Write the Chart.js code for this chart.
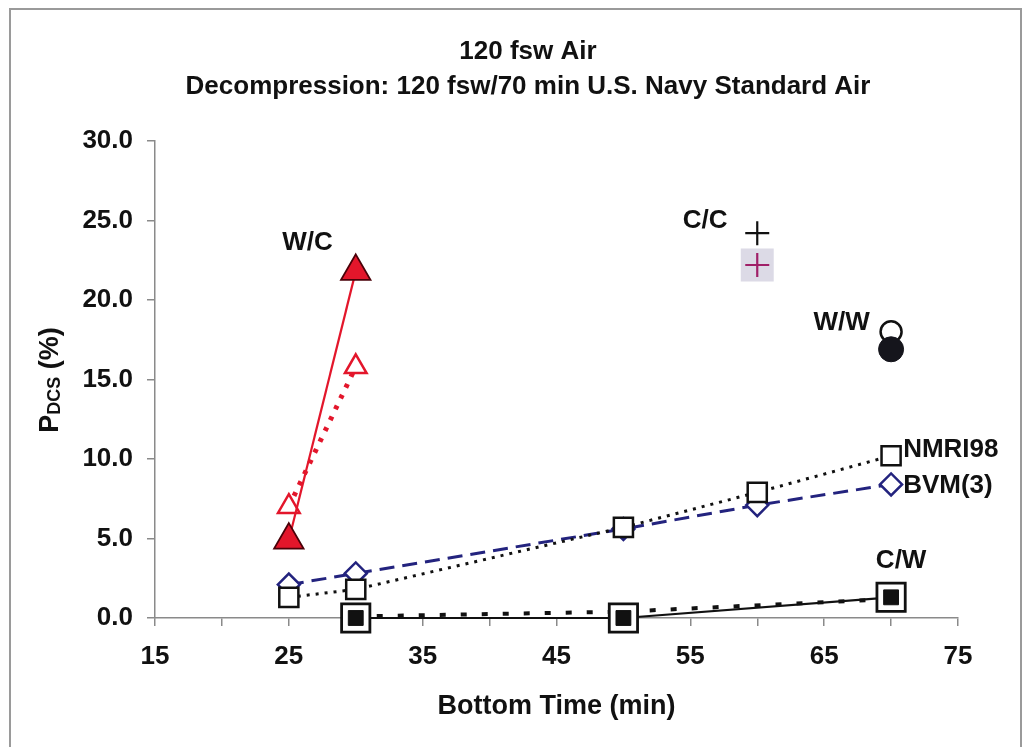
<!DOCTYPE html>
<html>
<head>
<meta charset="utf-8">
<script src="https://cdn.jsdelivr.net/npm/chart.js@4.4.1/dist/chart.umd.min.js"></script>
<style>
  html, body { margin: 0; padding: 0; background: #fff; }
  #wrap { position: relative; width: 1026px; height: 747px; }
  #frame { position: absolute; left: 9px; top: 8px; width: 1009px; height: 738px; border: 2px solid #9a9a9a; border-bottom: none; pointer-events: none; }
</style>
</head>
<body>
<div id="wrap">
  <canvas id="chart" width="1026" height="747"></canvas>
  <div id="frame"></div>
</div>
<script>
// bottom times (min) and P(DCS) values (%)
const wcTime = [25, 30];
const wcObserved = [4.9, 21.8];
const wcPredicted = [7.0, 15.8];

const ccTime = [60];
const ccObserved = [24.2];
const ccPredicted = [22.2];

const wwTime = [70];
const wwObserved = [16.9];
const wwPredicted = [18.0];

const cwTime = [30, 50, 70];
const cwObserved = [0.0, 0.0, 1.3];
const cwPredicted = [0.1, 0.4, 1.2];

const modelTime = [25, 30, 50, 60, 70];
const nmri98 = [1.3, 1.8, 5.7, 7.9, 10.2];
const bvm3 = [2.1, 2.8, 5.6, 7.1, 8.4];

const xTickLabels = [15, 25, 35, 45, 55, 65, 75];
const yTickValues = [0, 5, 10, 15, 20, 25, 30];

// text labels next to the series, placed in data units
const labelText = ['W/C', 'C/C', 'W/W', 'NMRI98', 'BVM(3)', 'C/W'];
const labelX = [26.4, 56.1, 66.3, 70.9, 70.9, 70.75];
const labelY = [23.6, 25.0, 18.55, 10.6, 8.3, 3.6];
const labelAlign = ['center', 'center', 'center', 'left', 'left', 'center'];

const titleLines = ['120 fsw Air', 'Decompression: 120 fsw/70 min U.S. Navy Standard Air'];

const FONT = '"Liberation Sans", Arial, Helvetica, sans-serif';
const RED = '#e3162b';
const NAVY = '#23237e';

function pts(xs, ys) {
  return xs.map((x, i) => ({ x: x, y: ys[i] }));
}

const textPlugin = {
  id: 'texts',
  afterDraw(chart) {
    const ctx = chart.ctx;
    const xs = chart.scales.x, ys = chart.scales.y;
    ctx.save();
    ctx.fillStyle = '#111';

    // title
    ctx.font = 'bold 26px ' + FONT;
    ctx.textAlign = 'center';
    ctx.textBaseline = 'alphabetic';
    ctx.fillText(titleLines[0], 528, 59);
    ctx.fillText(titleLines[1], 528, 94);

    // y axis title with subscript
    ctx.save();
    ctx.translate(58, 380);
    ctx.rotate(-Math.PI / 2);
    ctx.textAlign = 'left';
    const big = 'bold 27px ' + FONT, small = 'bold 18px ' + FONT;
    ctx.font = big; const wP = ctx.measureText('P').width;
    const wRest = ctx.measureText(' (%)').width;
    ctx.font = small; const wSub = ctx.measureText('DCS').width;
    let x0 = -(wP + wSub + wRest) / 2;
    ctx.font = big; ctx.fillText('P', x0, 0); x0 += wP;
    ctx.font = small; ctx.fillText('DCS', x0, 2); x0 += wSub;
    ctx.font = big; ctx.fillText(' (%)', x0, 0);
    ctx.restore();

    // series labels
    ctx.font = 'bold 26px ' + FONT;
    ctx.textBaseline = 'middle';
    labelText.forEach((t, i) => {
      ctx.textAlign = labelAlign[i];
      ctx.fillText(t, xs.getPixelForValue(labelX[i]), ys.getPixelForValue(labelY[i]));
    });
    ctx.restore();
  }
};

const axisGrid = { drawOnChartArea: false, drawTicks: true, tickLength: 8, color: '#8a8a8a', lineWidth: 1.5 };

new Chart(document.getElementById('chart'), {
  type: 'scatter',
  data: {
    datasets: [
      { // C/W observed, inner filled square
        data: pts(cwTime, cwObserved), showLine: false, clip: false,
        pointStyle: 'rect', pointRadius: 10.5, backgroundColor: '#111', borderColor: '#111', borderWidth: 1
      },
      { // C/W observed, outer square + solid line
        data: pts(cwTime, cwObserved), showLine: true, clip: false,
        borderColor: '#111', borderWidth: 2.2,
        pointStyle: 'rect', pointRadius: 20, pointBackgroundColor: '#fff', pointBorderColor: '#111', pointBorderWidth: 2.8
      },
      { // C/W predicted
        data: pts(cwTime, cwPredicted), showLine: true, clip: false, pointRadius: 0,
        borderColor: '#111', borderWidth: 4, borderDash: [6, 15]
      },
      { // W/W observed
        data: pts(wwTime, wwObserved), clip: false,
        pointStyle: 'circle', pointRadius: 12.5, backgroundColor: '#15151c', borderColor: '#15151c', borderWidth: 1
      },
      { // W/W predicted
        data: pts(wwTime, wwPredicted), clip: false,
        pointStyle: 'circle', pointRadius: 10.5, backgroundColor: '#fff', borderColor: '#111', borderWidth: 2.5
      },
      { // C/C observed
        data: pts(ccTime, ccObserved), clip: false,
        pointStyle: 'cross', pointRadius: 12, borderColor: '#111', borderWidth: 2.2
      },
      { // C/C predicted
        data: pts(ccTime, ccPredicted), clip: false,
        pointStyle: 'cross', pointRadius: 12, borderColor: '#a01f68', borderWidth: 2.2
      },
      { // C/C predicted, shaded backdrop
        data: pts(ccTime, ccPredicted), clip: false,
        pointStyle: 'rect', pointRadius: 23.3, backgroundColor: '#dcdae6', borderWidth: 0
      },
      { // W/C observed
        data: pts(wcTime, wcObserved), showLine: true, clip: false,
        borderColor: RED, borderWidth: 2.2,
        pointStyle: 'triangle', pointRadius: 17, pointBackgroundColor: RED, pointBorderColor: '#4a0008', pointBorderWidth: 1.8
      },
      { // W/C predicted
        data: pts(wcTime, wcPredicted), showLine: true, clip: false,
        borderColor: RED, borderWidth: 5, borderDash: [4, 8],
        pointStyle: 'triangle', pointRadius: 12.5, pointBackgroundColor: '#fff', pointBorderColor: RED, pointBorderWidth: 2.5
      },
      { // NMRI98
        data: pts(modelTime, nmri98), showLine: true, clip: false,
        borderColor: '#111', borderWidth: 3, borderDash: [3, 6],
        pointStyle: 'rect', pointRadius: 13.5, pointBackgroundColor: '#fff', pointBorderColor: '#111', pointBorderWidth: 2.5
      },
      { // BVM(3)
        data: pts(modelTime, bvm3), showLine: true, clip: false,
        borderColor: NAVY, borderWidth: 3, borderDash: [15, 8],
        pointStyle: 'rectRot', pointRadius: 11, pointBackgroundColor: '#fff', pointBorderColor: NAVY, pointBorderWidth: 2.5
      }
    ]
  },
  options: {
    responsive: false,
    animation: false,
    events: [],
    layout: { padding: { top: 141, right: 68, left: 0, bottom: 0 } },
    plugins: { legend: { display: false }, title: { display: false }, tooltip: { enabled: false } },
    scales: {
      x: {
        type: 'linear', min: 15, max: 75,
        afterFit: (s) => { s.height = 129; },
        grid: axisGrid,
        border: { color: '#8a8a8a', width: 1.5 },
        ticks: {
          stepSize: 5, autoSkip: false, maxRotation: 0, padding: 15, color: '#111',
          font: { family: FONT, size: 26, weight: 'bold' },
          callback: (v) => xTickLabels.includes(v) ? String(v) : ''
        },
        title: {
          display: true, text: 'Bottom Time (min)', color: '#111',
          font: { family: FONT, size: 27, weight: 'bold' },
          padding: { top: 0, bottom: 24 }
        }
      },
      y: {
        type: 'linear', min: 0, max: 30,
        afterFit: (s) => { s.width = 155; },
        afterBuildTicks: (s) => { s.ticks = yTickValues.map(v => ({ value: v })); },
        grid: axisGrid,
        border: { color: '#8a8a8a', width: 1.5 },
        ticks: {
          padding: 14, color: '#111',
          font: { family: FONT, size: 26, weight: 'bold' },
          callback: (v) => Number(v).toFixed(1)
        }
      }
    }
  },
  plugins: [textPlugin]
});
</script>
</body>
</html>
